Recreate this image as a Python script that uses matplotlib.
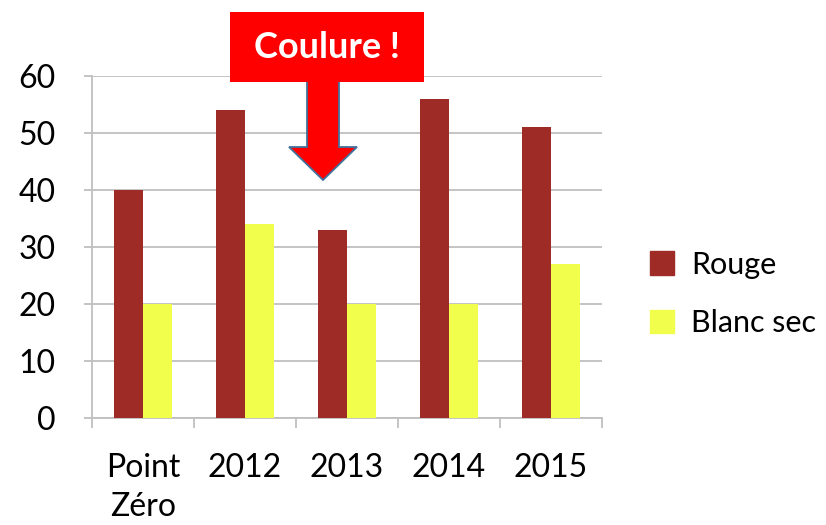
import numpy as np
import matplotlib
matplotlib.use("Agg")
from matplotlib import pyplot as plt
from matplotlib.patches import Polygon, Rectangle, Patch

categories = ["Point\nZéro", "2012", "2013", "2014", "2015"]
rouge = [40, 54, 33, 56, 51]
blanc_sec = [20, 34, 20, 20, 27]
y_ticks = [0, 10, 20, 30, 40, 50, 60]

c_rouge = "#9E2B25"
c_blanc = "#F1FF4C"
grid_c = "#BFBFBF"

plt.rcParams['font.family'] = ['Lato', 'DejaVu Sans']

W, H = 826, 525
fig = plt.figure(figsize=(W / 100, H / 100), dpi=100)
ax = fig.add_axes([92 / W, 1 - 418 / H, 510 / W, 342 / H])

x = np.arange(len(categories))
bw = 0.285
ax.bar(x - bw / 2, rouge, bw, color=c_rouge, zorder=3)
ax.bar(x + bw / 2, blanc_sec, bw, color=c_blanc, zorder=3)

ax.set_xlim(-0.5, len(categories) - 0.5)
ax.set_ylim(0, 60)
ax.set_yticks(y_ticks)
ax.yaxis.grid(True, color=grid_c, lw=1.3, zorder=0)
ax.set_axisbelow(True)

ax.set_xticks(x)
ax.set_xticklabels(categories, fontsize=23, linespacing=1.4, va="top")
ax.set_xticks(np.arange(len(categories) + 1) - 0.5, minor=True)
ax.tick_params(axis="x", which="major", length=0, pad=25)
ax.tick_params(axis="x", which="minor", length=7, color=grid_c, width=1.3)
ax.tick_params(axis="y", length=6, color=grid_c, width=1.3, labelsize=23, pad=20)

for s in ["top", "right"]:
    ax.spines[s].set_visible(False)
for s in ["left", "bottom"]:
    ax.spines[s].set_color(grid_c)
    ax.spines[s].set_linewidth(1.3)

# legend
handles = [Patch(color=c_rouge, label="Rouge"), Patch(color=c_blanc, label="Blanc sec")]
fig.legend(handles=handles, loc="center left", bbox_to_anchor=(622 / W, 1 - 294 / H),
           frameon=False, fontsize=22, handlelength=0.8, handleheight=0.8,
           handletextpad=0.55, labelspacing=1.0)

# annotation "Coulure !" with arrow (pixel positions -> figure fraction)
def px(a, b):
    return (a / W, 1 - b / H)

arrow_pts = [(307, 78), (307, 147), (289, 147), (323, 180), (357, 147), (339, 147), (339, 78)]
fig.patches.append(Polygon([px(*p) for p in arrow_pts], closed=True, transform=fig.transFigure,
                           facecolor="#FF0000", edgecolor="#41719C", lw=1.3, zorder=5))
fig.patches.append(Rectangle(px(230, 82), 194 / W, 70 / H, transform=fig.transFigure,
                             facecolor="#FF0000", edgecolor="none", zorder=6))
fig.text(327 / W, 1 - 47 / H, "Coulure !", color="white", fontsize=26, fontweight="bold",
         ha="center", va="center", zorder=7)

plt.savefig("out.png", dpi=100)
